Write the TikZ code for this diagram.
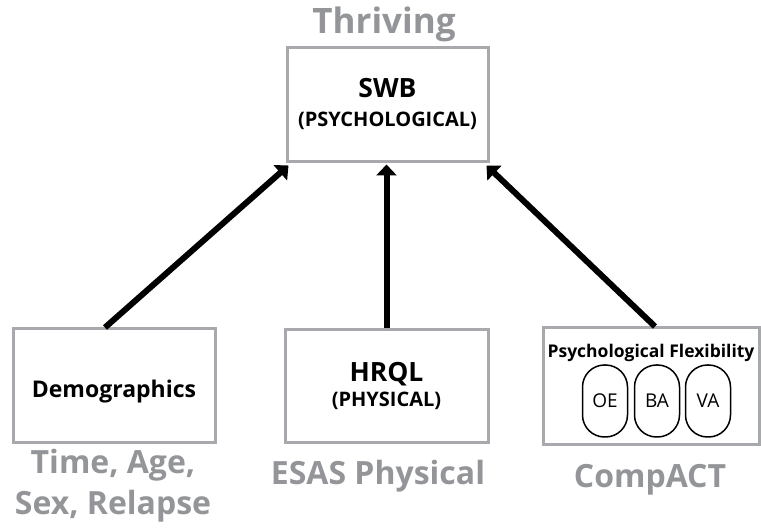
\documentclass[tikz,border=0pt]{standalone}
\usepackage{fontspec}
\setmainfont{Open Sans}
\usetikzlibrary{arrows.meta,positioning}
\definecolor{labelgray}{HTML}{939598}
\definecolor{boxgray}{HTML}{A7A9AC}
\tikzset{
  box/.style={draw=boxgray, line width=3pt, fill=white, inner sep=0pt},
  link/.style={line width=6pt, -{Triangle[width=20pt,length=11pt]}},
  caption/.style={text=labelgray, font=\fontsize{32}{38}\selectfont\bfseries, anchor=base, inner sep=0pt, align=center},
  title/.style={font=\fontsize{26.5}{30}\selectfont\bfseries, anchor=base, inner sep=0pt},
  sub/.style={font=\fontsize{20}{22}\selectfont\bfseries, anchor=base, inner sep=0pt},
  pill/.style={draw=black, line width=1.5pt, rounded corners=22pt, minimum width=45pt, minimum height=72pt, inner sep=0pt, font=\fontsize{19}{22}\selectfont},
}
\begin{document}
\begin{tikzpicture}[x=1pt,y=-1pt]
\useasboundingbox (0,0) rectangle (761,529);

% outcome box
\node[box, minimum width=201pt, minimum height=114pt] (swb) at (387.5,105) {};
\node[caption, font=\fontsize{35}{40}\selectfont\bfseries] (thr) at (384,34) {Thriving};
\node[title] (swbt) at (387.5,98) {SWB};
\node[sub] (swbs) at (387.5,127) {(PSYCHOLOGICAL)};

% predictor boxes
\node[box, minimum width=202pt, minimum height=114pt] (demo) at (114,386) {};
\node[box, minimum width=203pt, minimum height=113pt] (hrql) at (386.5,386.5) {};
\node[box, minimum width=216pt, minimum height=117pt] (comp) at (651,386.5) {};

\node[font=\fontsize{23}{26}\selectfont\bfseries, anchor=base, inner sep=0pt] (demot) at (114,398) {Demographics};
\node[title] (hrqlt) at (386.5,382) {HRQL};
\node[sub] (hrqls) at (386.5,407) {(PHYSICAL)};
\node[font=\fontsize{17.5}{20}\selectfont\bfseries, anchor=base, inner sep=0pt] (pf) at (651,358) {Psychological Flexibility};

\node[pill] (oe) at (605,401) {OE};
\node[pill] (ba) at (657,401) {BA};
\node[pill] (va) at (708,401) {VA};

% captions under the predictors
\node[caption] (demoa) at (113,474) {Time, Age,};
\node[caption] (demob) at (113,514) {Sex, Relapse};
\node[caption] (esas) at (378,485) {ESAS Physical};
\node[caption] (compc) at (650,487) {CompACT};

% paths
\draw[link] ([xshift=-9pt]demo.north) -- ([xshift=3pt,yshift=-2pt]swb.south west);
\draw[link] (hrql.north) -- ([yshift=-1pt]hrql.north |- swb.south);
\draw[link] ([xshift=4pt]comp.north) -- ([xshift=-3pt,yshift=-2pt]swb.south east);
\end{tikzpicture}
\end{document}
